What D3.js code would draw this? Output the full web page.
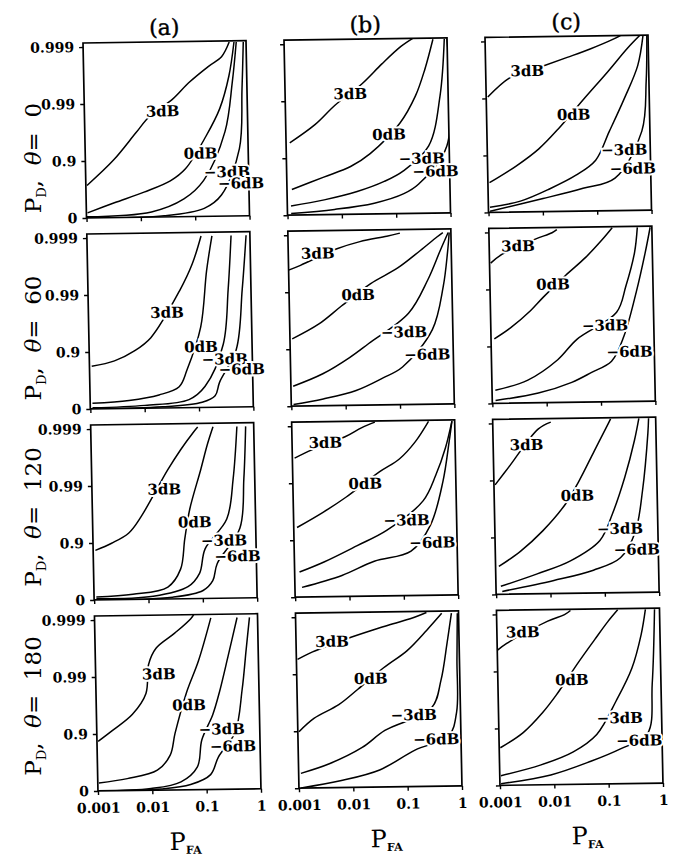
<!DOCTYPE html>
<html>
<head>
<meta charset="utf-8">
<script src="https://cdn.jsdelivr.net/npm/d3@7"></script>
<style>
  body { margin: 0; background: #fff; }
  svg text { font-family: "DejaVu Serif", serif; }
</style>
</head>
<body>
<div id="chart"></div>
<script>
// ---- data: [P_FA, P_D] points ----

const columns = ["(a)", "(b)", "(c)"];
const thetas = ["0", "60", "120", "180"];
const snrLabels = ["3dB", "0dB", "\u22123dB", "\u22126dB"];
const pfaTicks = [0.001, 0.01, 0.1, 1];
const pfaTickLabels = ["0.001", "0.01", "0.1", "1"];
const pdTicks = [0, 0.9, 0.99, 0.999];
const pdTickLabels = ["0", "0.9", "0.99", "0.999"];

// theta = 0
const a0 = [
  [[0.00105,0.731],[0.0033,0.902],[0.0087,0.967],[0.0158,0.983],[0.042,0.9913],[0.085,0.9955],[0.2,0.99766],[0.35,0.9984],[0.49,0.99911]],
  [[0.00105,0.187],[0.0033,0.45],[0.0117,0.637],[0.036,0.766],[0.069,0.855],[0.17,0.961],[0.31,0.987],[0.47,0.9965],[0.6,0.99911]],
  [[0.001,0.045],[0.0158,0.187],[0.063,0.51],[0.148,0.766],[0.38,0.967],[0.54,0.9955],[0.66,0.99911]],
  [[0.001,0.01],[0.027,0.045],[0.148,0.276],[0.31,0.573],[0.69,0.934],[0.81,0.994],[0.89,0.99911]]
];
const b0 = [
  [[0.00117,0.946],[0.0035,0.974],[0.0083,0.988],[0.026,0.9948],[0.062,0.99766],[0.141,0.99883],[0.234,0.99915]],
  [[0.00123,0.645],[0.0048,0.781],[0.0151,0.855],[0.035,0.913],[0.126,0.974],[0.25,0.9913],[0.38,0.997],[0.55,0.99911]],
  [[0.00117,0.31],[0.0048,0.45],[0.0195,0.6],[0.062,0.73],[0.141,0.822],[0.42,0.934],[0.71,0.9913],[0.89,0.99911]],
  [[0.00117,0.067],[0.0074,0.187],[0.04,0.354],[0.141,0.553],[0.27,0.698],[0.91,0.934],[1.0,0.99911]]
];
const c0 = [
  [[0.00107,0.9905],[0.0029,0.9957],[0.0102,0.9971],[0.032,0.998],[0.085,0.99856],[0.229,0.99902],[0.31,0.99915]],
  [[0.00107,0.698],[0.0033,0.842],[0.0089,0.921],[0.021,0.965],[0.063,0.9893],[0.178,0.9964],[0.41,0.99856],[0.71,0.99915]],
  [[0.00107,0.187],[0.0039,0.354],[0.0138,0.602],[0.042,0.766],[0.098,0.871],[0.178,0.959],[0.35,0.9893],[0.63,0.9971],[0.81,0.99915]],
  [[0.00107,0.045],[0.0102,0.41],[0.056,0.602],[0.219,0.731],[0.71,0.959],[0.89,0.9945],[0.95,0.99915]]
];

// theta = 60
const a60 = [
  [[0.0011,0.822],[0.0029,0.855],[0.0068,0.902],[0.0138,0.942],[0.049,0.9913],[0.085,0.997],[0.126,0.99902]],
  [[0.0011,0.206],[0.0052,0.276],[0.0186,0.411],[0.044,0.573],[0.062,0.781],[0.115,0.961],[0.155,0.996],[0.2,0.99902]],
  [[0.0011,0.045],[0.0102,0.109],[0.066,0.276],[0.132,0.573],[0.295,0.921],[0.38,0.9913],[0.45,0.99902]],
  [[0.001,0.01],[0.0214,0.045],[0.115,0.187],[0.2,0.369],[0.245,0.637],[0.51,0.902],[0.69,0.9913],[0.85,0.99902]]
];
const b60 = [
  [[0.001,0.9959],[0.00166,0.9966],[0.0079,0.99822],[0.021,0.99865],[0.066,0.9989],[0.115,0.99902]],
  [[0.0011,0.934],[0.0034,0.963],[0.0091,0.982],[0.032,0.9926],[0.102,0.996],[0.27,0.998],[0.55,0.99883],[0.71,0.99902]],
  [[0.0011,0.553],[0.0039,0.725],[0.0123,0.855],[0.028,0.917],[0.155,0.975],[0.36,0.9934],[0.63,0.998],[0.89,0.99902]],
  [[0.0011,0.067],[0.0039,0.241],[0.0158,0.45],[0.049,0.661],[0.115,0.781],[0.42,0.951],[0.69,0.9913],[0.85,0.99776],[0.93,0.99902]]
];
const c60 = [
  [[0.00105,0.99653],[0.0017,0.99755],[0.0071,0.99865],[0.0145,0.99895],[0.0178,0.99907]],
  [[0.00115,0.926],[0.0023,0.952],[0.0055,0.976],[0.0095,0.9859],[0.025,0.9941],[0.059,0.9971],[0.12,0.99856],[0.186,0.99911]],
  [[0.00115,0.41],[0.0046,0.602],[0.0166,0.822],[0.038,0.921],[0.209,0.973],[0.316,0.9905],[0.47,0.99755],[0.54,0.99911]],
  [[0.00115,0.109],[0.0071,0.324],[0.0295,0.553],[0.069,0.698],[0.162,0.805],[0.28,0.929],[0.49,0.988],[0.74,0.99755],[0.93,0.99911]]
];

// theta = 120
const a120 = [
  [[0.0011,0.865],[0.0022,0.898],[0.0046,0.932],[0.0079,0.965],[0.025,0.9945],[0.044,0.99755],[0.076,0.99877],[0.093,0.99902]],
  [[0.0011,0.109],[0.0052,0.187],[0.023,0.383],[0.04,0.698],[0.049,0.911],[0.062,0.973],[0.102,0.9945],[0.138,0.998],[0.178,0.99902]],
  [[0.0011,0.045],[0.0123,0.109],[0.054,0.383],[0.089,0.637],[0.115,0.865],[0.295,0.959],[0.4,0.9919],[0.49,0.99902]],
  [[0.001,0.01],[0.028,0.067],[0.102,0.276],[0.155,0.51],[0.19,0.755],[0.51,0.94],[0.63,0.9919],[0.71,0.99902]]
];
const b120 = [
  [[0.0011,0.99637],[0.0023,0.99737],[0.0095,0.99842],[0.0195,0.9989],[0.034,0.99911]],
  [[0.00115,0.94],[0.0035,0.967],[0.0095,0.982],[0.04,0.9934],[0.093,0.996],[0.186,0.998],[0.33,0.99911]],
  [[0.00123,0.637],[0.0035,0.755],[0.0145,0.871],[0.051,0.929],[0.245,0.978],[0.43,0.9922],[0.66,0.99737],[0.89,0.99911]],
  [[0.00135,0.324],[0.0074,0.573],[0.0295,0.755],[0.141,0.834],[0.33,0.942],[0.58,0.99],[0.78,0.998],[0.89,0.99911]]
];
const c120 = [
  [[0.00105,0.988],[0.0019,0.9941],[0.0068,0.99871],[0.0117,0.99902]],
  [[0.00115,0.676],[0.0029,0.822],[0.0076,0.921],[0.0204,0.973],[0.037,0.9893],[0.072,0.99676],[0.132,0.9989],[0.148,0.99911]],
  [[0.00123,0.276],[0.0058,0.553],[0.024,0.731],[0.085,0.88],[0.148,0.959],[0.257,0.9905],[0.4,0.99786],[0.49,0.99911]],
  [[0.0013,0.109],[0.0117,0.41],[0.063,0.602],[0.2,0.755],[0.38,0.911],[0.54,0.9838],[0.71,0.99838],[0.74,0.99911]]
];

// theta = 180
const a180 = [
  [[0.00105,0.865],[0.0019,0.911],[0.0046,0.954],[0.0083,0.98],[0.0095,0.9938],[0.0132,0.99676],[0.0295,0.99822],[0.059,0.999],[0.07,0.9992]],
  [[0.00105,0.276],[0.0035,0.383],[0.0126,0.553],[0.022,0.755],[0.0275,0.898],[0.046,0.98],[0.079,0.9945],[0.138,0.99902]],
  [[0.001,0.01],[0.0095,0.067],[0.034,0.276],[0.069,0.602],[0.085,0.865],[0.138,0.951],[0.186,0.98],[0.28,0.9955],[0.42,0.99902]],
  [[0.001,0.005],[0.0145,0.045],[0.051,0.187],[0.12,0.45],[0.17,0.731],[0.35,0.898],[0.49,0.982],[0.6,0.99637],[0.71,0.99902]]
];
const b180 = [
  [[0.00105,0.9945],[0.002,0.9959],[0.0087,0.99755],[0.023,0.99818],[0.062,0.99862],[0.141,0.9989],[0.257,0.99911]],
  [[0.00105,0.898],[0.002,0.94],[0.0058,0.965],[0.0132,0.981],[0.04,0.9919],[0.11,0.9959],[0.257,0.99818],[0.49,0.99907]],
  [[0.0011,0.45],[0.0037,0.62],[0.0151,0.8],[0.04,0.898],[0.295,0.958],[0.45,0.9862],[0.6,0.9969],[0.74,0.99907]],
  [[0.0011,0.01],[0.0058,0.241],[0.031,0.499],[0.141,0.771],[0.6,0.87],[0.85,0.95],[0.9,0.9938],[0.95,0.99907]]
];
const c180 = [
  [[0.001,0.99573],[0.0015,0.99676],[0.0087,0.99865],[0.0178,0.99895],[0.023,0.99911]],
  [[0.00105,0.781],[0.0028,0.88],[0.0065,0.946],[0.0117,0.973],[0.031,0.9928],[0.063,0.9971],[0.11,0.99856],[0.17,0.99911]],
  [[0.00105,0.324],[0.0058,0.553],[0.023,0.731],[0.063,0.865],[0.148,0.965],[0.295,0.9905],[0.45,0.99755],[0.55,0.99911]],
  [[0.00105,0.067],[0.0087,0.324],[0.048,0.602],[0.17,0.755],[0.54,0.865],[0.69,0.982],[0.81,0.99911]]
];

// where each curve label sits, [P_FA, P_D], order 3dB, 0dB, -3dB, -6dB
const labA0 = [[0.0275,0.9859],[0.132,0.921],[0.4,0.83],[0.72,0.73]];
const labB0 = [[0.0158,0.9922],[0.079,0.959],[0.31,0.89],[0.55,0.814]];
const labC0 = [[0.0058,0.9966],[0.04,0.9796],[0.33,0.913],[0.47,0.814]];
const labA60 = [[0.028,0.9786],[0.115,0.913],[0.31,0.855],[0.63,0.78]];
const labB60 = [[0.0035,0.99786],[0.0186,0.9883],[0.126,0.946],[0.33,0.865]];
const labC60 = [[0.0034,0.99822],[0.0145,0.9915],[0.126,0.954],[0.35,0.865]];
const labA120 = [[0.0214,0.988],[0.076,0.954],[0.257,0.902],[0.45,0.814]];
const labB120 = [[0.0041,0.998],[0.0214,0.9893],[0.12,0.952],[0.35,0.88]];
const labC120 = [[0.0041,0.99755],[0.034,0.9805],[0.2,0.924],[0.4,0.822]];
const labA180 = [[0.0145,0.9907],[0.051,0.967],[0.2,0.911],[0.316,0.822]];
const labB180 = [[0.0046,0.99725],[0.023,0.9874],[0.138,0.944],[0.35,0.849]];
const labC180 = [[0.003,0.9979],[0.023,0.9852],[0.17,0.929],[0.38,0.822]];

const panelCurves = [[a0, b0, c0], [a60, b60, c60], [a120, b120, c120], [a180, b180, c180]];
const panelLabels = [[labA0, labB0, labC0], [labA60, labB60, labC60],
                     [labA120, labB120, labC120], [labA180, labB180, labC180]];

// ---- layout ----
const width = 674, height = 856;
const pw = 163, ph = 175;         // one panel
const colStep = 201, rowStep = 191;
const rowLabelY = [158, 338, 517, 706];

const svg = d3.select("#chart").append("svg")
  .attr("width", width)
  .attr("height", height);

svg.append("rect").attr("width", width).attr("height", height).attr("fill", "#fff");

svg.append("defs").append("clipPath").attr("id", "panelClip")
  .append("rect").attr("width", pw).attr("height", ph);

// the scan is slightly tilted, so the grid is too
const plot = svg.append("g").attr("transform", "matrix(1,-0.014,0.02,1,83,43)");

const x = d3.scaleLog().domain([0.001, 1]).range([0, pw]);
// y axis is log of the miss probability 1 - P_D
const miss = d3.scaleLog().domain([1, 0.00085]).range([ph, 0]);

const line = d3.line()
  .x(d => x(d[0]))
  .y(d => miss(1 - d[1]))
  .curve(d3.curveCatmullRom.alpha(0.5));

thetas.forEach((theta, r) => {
  columns.forEach((col, c) => {
    const g = plot.append("g")
      .attr("transform", `translate(${c * colStep},${r * rowStep})`);

    // left axis
    const yAxis = g.append("g")
      .call(d3.axisLeft(miss)
        .tickValues(pdTicks.map(p => 1 - p))
        .tickSize(4).tickSizeOuter(0).tickPadding(5)
        .tickFormat((d, i) => c === 0 ? pdTickLabels[i] : ""));
    yAxis.select(".domain").remove();

    // bottom axis
    const xAxis = g.append("g")
      .attr("transform", `translate(0,${ph})`)
      .call(d3.axisBottom(x)
        .tickValues(pfaTicks)
        .tickSize(4).tickSizeOuter(0).tickPadding(8)
        .tickFormat((d, i) => r === 3 ? pfaTickLabels[i] : ""));
    xAxis.select(".domain").remove();

    g.selectAll(".tick line").attr("stroke", "#000").attr("stroke-width", 1.4);
    g.selectAll(".tick text")
      .attr("font-family", "DejaVu Serif, serif")
      .attr("font-size", 14)
      .attr("font-weight", "bold")
      .attr("fill", "#000");

    // frame
    g.append("rect")
      .attr("width", pw).attr("height", ph)
      .attr("fill", "none").attr("stroke", "#000").attr("stroke-width", 1.7);

    // curves
    g.append("g").attr("clip-path", "url(#panelClip)")
      .selectAll("path")
      .data(panelCurves[r][c])
      .join("path")
        .attr("d", line)
        .attr("fill", "none")
        .attr("stroke", "#000")
        .attr("stroke-width", 1.5);

    // curve labels (white halo makes the break in the line)
    g.selectAll("text.snr")
      .data(panelLabels[r][c])
      .join("text")
        .attr("class", "snr")
        .attr("x", d => x(d[0]))
        .attr("y", d => miss(1 - d[1]))
        .attr("text-anchor", "middle")
        .attr("dominant-baseline", "central")
        .attr("font-size", 15)
        .attr("font-weight", "bold")
        .attr("fill", "#000")
        .attr("stroke", "#fff")
        .attr("stroke-width", 4)
        .attr("paint-order", "stroke")
        .text((d, i) => snrLabels[i]);
  });
});

// column headers
plot.selectAll("text.col")
  .data(columns)
  .join("text")
    .attr("class", "col")
    .attr("x", (d, i) => i * colStep + pw / 2)
    .attr("y", -7)
    .attr("text-anchor", "middle")
    .attr("font-size", 22)
    .attr("stroke", "#000")
    .attr("stroke-width", 0.4)
    .text(d => d);

// x axis titles P_FA
columns.forEach((col, c) => {
  const t = plot.append("text")
    .attr("x", c * colStep + pw / 2 + 5)
    .attr("y", 808)
    .attr("text-anchor", "middle")
    .attr("font-size", 24);
  t.append("tspan").text("P");
  t.append("tspan").attr("font-size", 11).attr("font-weight", "bold").attr("dy", 4).text("FA");
});

// row titles P_D, theta = ...
thetas.forEach((theta, r) => {
  const t = svg.append("text")
    .attr("transform", `translate(41,${rowLabelY[r]}) rotate(-90)`)
    .attr("text-anchor", "middle")
    .attr("font-size", 23);
  t.append("tspan").text("P");
  t.append("tspan").attr("font-size", 13).attr("dy", 5).text("D");
  t.append("tspan").attr("dy", -5).text(",\u00a0\u00a0");
  t.append("tspan").attr("font-style", "italic").text("\u03b8");
  t.append("tspan").text("=\u00a0\u00a0" + theta);
});
</script>
</body>
</html>
